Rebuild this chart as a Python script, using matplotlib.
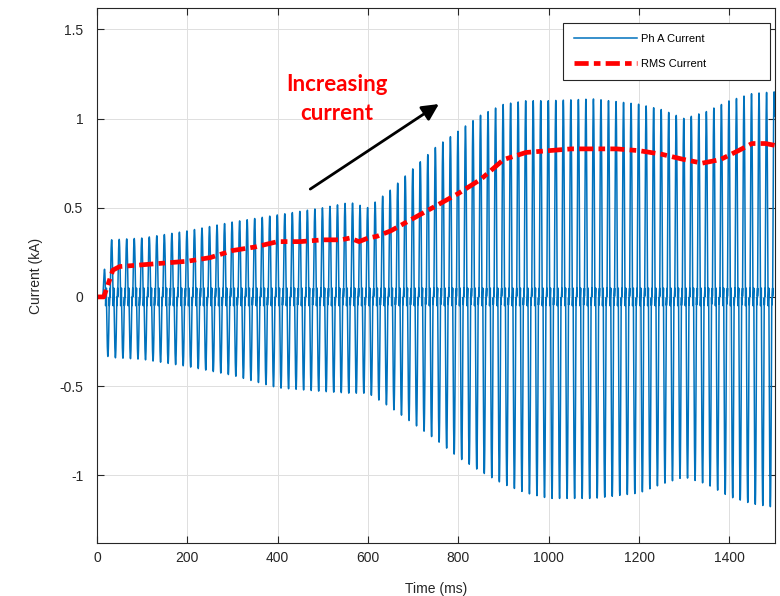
import numpy as np
import matplotlib.pyplot as plt

plt.rcParams['font.family'] = ['Liberation Sans', 'DejaVu Sans']

# Peak envelope of the phase A current [ms], [kA]
env_time = np.array([0, 12, 20, 30, 100, 200, 300, 400, 500, 560, 600, 650, 700, 750,
                     800, 850, 900, 950, 1000, 1100, 1200, 1250, 1300, 1350, 1400, 1450, 1500])
pos_peak = np.array([0, 0, 0.30, 0.32, 0.33, 0.37, 0.42, 0.46, 0.50, 0.53, 0.50, 0.60, 0.72, 0.84,
                     0.93, 1.02, 1.08, 1.10, 1.10, 1.11, 1.08, 1.05, 1.00, 1.04, 1.10, 1.14, 1.15])
neg_peak = np.array([0, 0, -0.33, -0.34, -0.35, -0.39, -0.44, -0.51, -0.53, -0.54, -0.54, -0.62, -0.71, -0.80,
                     -0.90, -0.98, -1.05, -1.10, -1.13, -1.13, -1.10, -1.05, -1.01, -1.05, -1.12, -1.16, -1.18])

# RMS current (red dashed line)
rms_time = [0, 15, 35, 50, 100, 150, 200, 250, 300, 350, 400, 450, 500, 540, 560, 580, 600, 620,
            650, 700, 750, 800, 850, 900, 950, 1000, 1050, 1100, 1150, 1200, 1250, 1300, 1340,
            1380, 1420, 1450, 1480, 1500]
rms_current = [0, 0, 0.15, 0.17, 0.18, 0.19, 0.20, 0.22, 0.26, 0.28, 0.31, 0.31, 0.32, 0.32, 0.33, 0.31,
               0.33, 0.34, 0.37, 0.44, 0.51, 0.58, 0.66, 0.77, 0.81, 0.82, 0.83, 0.83, 0.83, 0.82,
               0.80, 0.77, 0.75, 0.77, 0.82, 0.86, 0.86, 0.85]

f_sys = 60.0      # [Hz]
t_start = 13.0    # [ms] current starts flowing

# Build the pulsed phase current from the envelope
t = np.linspace(0, 1500, 36001)
theta = 2 * np.pi * f_sys * t / 1000 + 1.947
s = np.sin(theta)
pulse = np.clip((np.abs(s) - 0.35) / 0.65, 0, 1) ** 1.1
amp = np.where(s >= 0, np.interp(t, env_time, pos_peak), -np.interp(t, env_time, neg_peak))
ripple = 0.05 * np.sin(4 * theta) * (np.abs(s) < 0.35)
i_a = (np.sign(s) * pulse * amp + ripple) * (t > t_start)

fig = plt.figure(figsize=(7.8, 5.96), dpi=100)
ax = fig.add_axes([0.1244, 0.0889, 0.8686, 0.8977])

ax.plot(t, i_a, color='#0072BD', lw=1.1, label='Ph A Current' + ' ' * 17)
ax.plot(rms_time, rms_current, color='#FF0000', lw=3.4, dashes=(3, 1.1, 1.4, 1.1),
        label='RMS Current' + ' ' * 17)

ax.annotate('', xy=(762, 1.09), xytext=(467, 0.596),
            arrowprops=dict(arrowstyle='-|>,head_length=1.0,head_width=0.5',
                            color='black', lw=2))
ax.text(531, 1.11, 'Increasing\ncurrent', color='#FF0000', fontsize=16, fontweight='bold',
        family=['Lato', 'DejaVu Sans'], ha='center', va='center', linespacing=1.45)

ax.set_xlim(0, 1500)
ax.set_ylim(-1.38, 1.62)
ax.set_xticks([0, 200, 400, 600, 800, 1000, 1200, 1400])
ax.set_yticks([-1, -0.5, 0, 0.5, 1, 1.5])
ax.set_yticklabels(['-1', '-0.5', '0', '0.5', '1', '1.5'])
ax.tick_params(direction='in', length=5, width=0.8, top=True, right=True,
               labelsize=10, colors='#262626')
ax.tick_params(axis='x', pad=6)
ax.tick_params(axis='y', pad=10)
for sp in ax.spines.values():
    sp.set_color('#262626')
    sp.set_linewidth(0.8)
ax.grid(True, color='#dfdfdf', lw=0.7)
ax.set_axisbelow(True)

ax.set_xlabel('Time (ms)', fontsize=10, color='#262626', labelpad=12)
ax.set_ylabel('Current (kA)', fontsize=10, color='#262626', labelpad=12)

leg = ax.legend(loc='upper right', bbox_to_anchor=(0.994, 0.972), borderaxespad=0, fontsize=8,
                handlelength=5.6, handletextpad=0.4, labelspacing=1.3,
                fancybox=False, framealpha=1, edgecolor='#262626', borderpad=1.0)
leg.get_frame().set_linewidth(0.8)

plt.savefig('out.png', dpi=100)
